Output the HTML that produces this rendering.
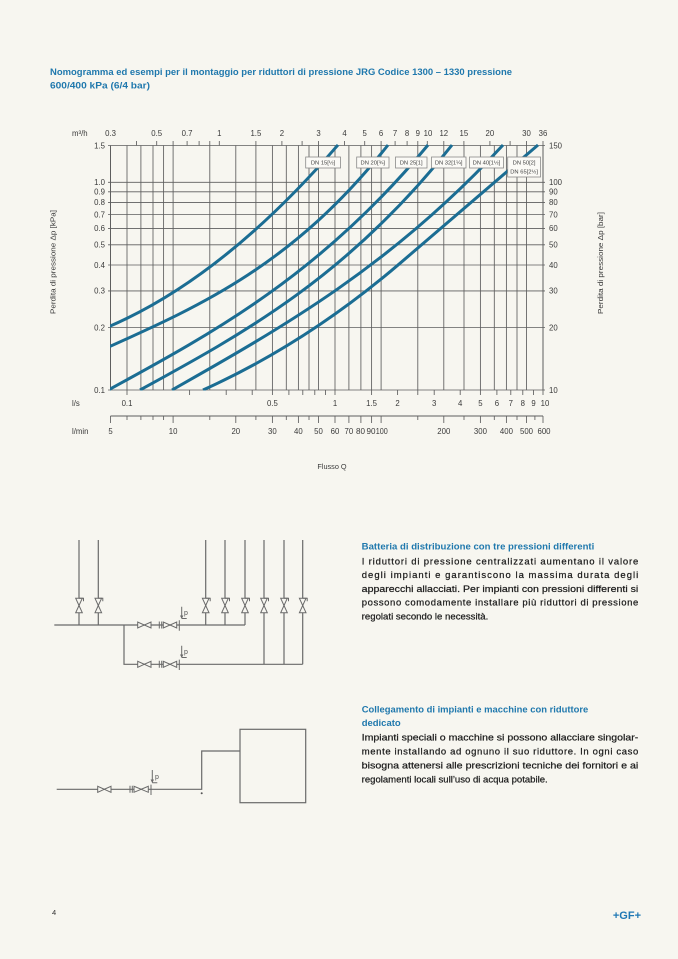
<!DOCTYPE html>
<html>
<head>
<meta charset="utf-8">
<style>
html,body{margin:0;padding:0;background:#f7f6f0;}
svg{display:block;}
</style>
</head>
<body>
<svg width="678" height="959" viewBox="0 0 678 959" xmlns="http://www.w3.org/2000/svg" font-family="'Liberation Sans', sans-serif">
<rect x="0" y="0" width="678" height="959" fill="#f7f6f0"/>

<!-- Title -->
<text x="50" y="75" font-size="9.5" font-weight="bold" fill="#1f78ad" textLength="462" lengthAdjust="spacingAndGlyphs">Nomogramma ed esempi per il montaggio per riduttori di pressione JRG Codice 1300 – 1330 pressione</text>
<text x="50" y="88.5" font-size="9.5" font-weight="bold" fill="#1f78ad" textLength="100" lengthAdjust="spacingAndGlyphs">600/400 kPa (6/4 bar)</text>

<!-- Grid -->
<g stroke="#5e5e5e" stroke-width="0.85" fill="none">
<path d="M127 145.5V390M140.9 145.5V390M153 145.5V390M163.6 145.5V390M173.1 145.5V390M209.8 145.5V390M235.8 145.5V390M255.9 145.5V390M272.4 145.5V390M286.3 145.5V390M298.4 145.5V390M309 145.5V390M318.5 145.5V390M335 145.5V390M348.9 145.5V390M360.9 145.5V390M371.6 145.5V390M381.1 145.5V390M417.8 145.5V390M443.8 145.5V390M464 145.5V390M480.4 145.5V390M494.3 145.5V390M506.4 145.5V390M517 145.5V390M526.5 145.5V390"/>
<path d="M108 327.5H545M108 290.9H545M108 265H545M108 244.8H545M108 228.4H545M108 214.5H545M108 202.4H545M108 191.8H545M108 182.3H545M108 145.5H545M108 390H545"/>
<path d="M110.5 145.5V390M543 145.5V390" stroke-width="1"/>
<!-- top ticks -->
<path d="M136.5 145.5V141M156.7 145.5V141M173.1 145.5V141M187.1 145.5V141M199.1 145.5V141M209.8 145.5V141M219.3 145.5V141M255.9 145.5V141M281.9 145.5V141M302.1 145.5V141M318.5 145.5V141M344.5 145.5V141M364.7 145.5V141M381.1 145.5V141M395.1 145.5V141M407.1 145.5V141M417.8 145.5V141M427.3 145.5V141M443.8 145.5V141M463.9 145.5V141M489.9 145.5V141M510.1 145.5V141M526.5 145.5V141M543 145.5V141"/>
<!-- l/s ticks -->
<path d="M127 390V395M189.6 390V395M226.2 390V395M252.2 390V395M272.4 390V395M288.9 390V395M302.8 390V395M314.8 390V395M325.5 390V395M335 390V395M371.6 390V395M397.6 390V395M417.8 390V395M434.2 390V395M460.2 390V395M480.4 390V395M496.9 390V395M510.8 390V395M522.8 390V395M533.5 390V395M543 390V395"/>
<!-- l/min axis -->
<path d="M110.5 416H543" stroke-width="1"/>
<path d="M110.5 416V423M173.1 416V423M235.8 416V423M272.4 416V423M298.4 416V423M318.5 416V423M335 416V423M348.9 416V423M360.9 416V423M371.6 416V423M381.1 416V423M443.8 416V423M480.4 416V423M506.4 416V423M526.5 416V423M543 416V423"/>
<path d="M127 416V420M140.9 416V420M153 416V420M163.6 416V420M209.8 416V420M255.9 416V420M286.3 416V420M309 416V420M417.8 416V420M464 416V420M494.3 416V420M517 416V420M534.9 416V420"/>
</g>

<!-- Curves -->
<defs><clipPath id="cc"><rect x="110" y="143.5" width="434" height="247"/></clipPath></defs>
<g clip-path="url(#cc)" stroke="#1b6d93" stroke-width="3" fill="none">
<path d="M108,327 C184.67,294.26 261.33,233.58 338,144.94"/>
<path d="M108,347.3 C201.33,305.42 294.67,263.54 388,145"/>
<path d="M108.3,390 C214.87,331.86 321.43,273.71 428,145"/>
<path d="M140,390 C244,333.2 348,276.39 452,145"/>
<path d="M172,390 C282.33,327.49 392.67,264.97 503,145"/>
<path d="M203,390 Q306.5,343.4 400,263.3 L538,145"/>
</g>

<!-- Legend boxes -->
<g fill="#fbfaf6" stroke="#8a8a8a" stroke-width="0.8">
<rect x="305.7" y="157" width="34.8" height="11"/>
<rect x="356.7" y="157" width="32.3" height="11"/>
<rect x="395.5" y="157" width="31.5" height="11"/>
<rect x="431.5" y="157" width="34.5" height="11"/>
<rect x="469.5" y="157" width="34" height="11"/>
<rect x="507.7" y="157" width="32.8" height="20"/>
</g>
<g font-size="5.8" fill="#444" text-anchor="middle">
<text x="323.1" y="164.7">DN 15[½]</text>
<text x="372.8" y="164.7">DN 20[¾]</text>
<text x="411.2" y="164.7">DN 25[1]</text>
<text x="448.7" y="164.7">DN 32[1¼]</text>
<text x="486.5" y="164.7">DN 40[1½]</text>
<text x="524.1" y="164.7">DN 50[2]</text>
<text x="524.1" y="173.5">DN 65[2½]</text>
</g>

<!-- Axis labels -->
<g font-size="7.8" fill="#3a3a3a">
<text x="72" y="136">m³/h</text>
<text x="72" y="406">l/s</text>
<text x="72" y="434">l/min</text>
</g>
<g font-size="7.8" fill="#3a3a3a" text-anchor="middle">
<text x="110.5" y="136">0.3</text>
<text x="156.7" y="136">0.5</text>
<text x="187.1" y="136">0.7</text>
<text x="219.3" y="136">1</text>
<text x="255.9" y="136">1.5</text>
<text x="281.9" y="136">2</text>
<text x="318.5" y="136">3</text>
<text x="344.5" y="136">4</text>
<text x="364.7" y="136">5</text>
<text x="381.1" y="136">6</text>
<text x="395.1" y="136">7</text>
<text x="407.1" y="136">8</text>
<text x="417.8" y="136">9</text>
<text x="428" y="136">10</text>
<text x="443.8" y="136">12</text>
<text x="463.9" y="136">15</text>
<text x="489.9" y="136">20</text>
<text x="526.5" y="136">30</text>
<text x="543" y="136">36</text>

<text x="127" y="406">0.1</text>
<text x="272.4" y="406">0.5</text>
<text x="335" y="406">1</text>
<text x="371.6" y="406">1.5</text>
<text x="397.6" y="406">2</text>
<text x="434.2" y="406">3</text>
<text x="460.2" y="406">4</text>
<text x="480.4" y="406">5</text>
<text x="496.9" y="406">6</text>
<text x="510.8" y="406">7</text>
<text x="522.8" y="406">8</text>
<text x="533.5" y="406">9</text>
<text x="545" y="406">10</text>

<text x="110.5" y="434">5</text>
<text x="173.1" y="434">10</text>
<text x="235.8" y="434">20</text>
<text x="272.4" y="434">30</text>
<text x="298.4" y="434">40</text>
<text x="318.5" y="434">50</text>
<text x="335" y="434">60</text>
<text x="348.9" y="434">70</text>
<text x="360.5" y="434" textLength="9" lengthAdjust="spacingAndGlyphs">80</text>
<text x="371" y="434" textLength="9" lengthAdjust="spacingAndGlyphs">90</text>
<text x="381.8" y="434" textLength="12" lengthAdjust="spacingAndGlyphs">100</text>
<text x="443.8" y="434">200</text>
<text x="480.4" y="434">300</text>
<text x="506.4" y="434">400</text>
<text x="526.5" y="434">500</text>
<text x="544" y="434">600</text>
</g>
<g font-size="7.8" fill="#3a3a3a" text-anchor="end">
<text x="105" y="148.5">1.5</text>
<text x="105" y="185.1">1.0</text>
<text x="105" y="194.6">0.9</text>
<text x="105" y="205.2">0.8</text>
<text x="105" y="217.3">0.7</text>
<text x="105" y="231.2">0.6</text>
<text x="105" y="247.6">0.5</text>
<text x="105" y="267.8">0.4</text>
<text x="105" y="293.7">0.3</text>
<text x="105" y="330.3">0.2</text>
<text x="105" y="392.8">0.1</text>
</g>
<g font-size="7.8" fill="#3a3a3a">
<text x="549" y="148.5">150</text>
<text x="549" y="185.1">100</text>
<text x="549" y="194.6">90</text>
<text x="549" y="205.2">80</text>
<text x="549" y="217.3">70</text>
<text x="549" y="231.2">60</text>
<text x="549" y="247.6">50</text>
<text x="549" y="267.8">40</text>
<text x="549" y="293.7">30</text>
<text x="549" y="330.3">20</text>
<text x="549" y="392.8">10</text>
</g>
<text transform="translate(55.5,262) rotate(-90)" font-size="7.3" fill="#3a3a3a" text-anchor="middle" textLength="104" lengthAdjust="spacingAndGlyphs">Perdita di pressione Δp [kPa]</text>
<text transform="translate(603,263) rotate(-90)" font-size="7.3" fill="#3a3a3a" text-anchor="middle" textLength="102" lengthAdjust="spacingAndGlyphs">Perdita di pressione Δp [bar]</text>
<text x="332" y="469" font-size="7.3" fill="#3a3a3a" text-anchor="middle">Flusso Q</text>

<!-- Diagram 1 -->
<g stroke="#6a6a6a" stroke-width="1.2" fill="none">
<path d="M54.3 625H245"/>
<path d="M79 540V625M98.3 540V625M205.7 540V625M225 540V625M245 540V625"/>
<path d="M264 540V664.3M284 540V664.3M302.7 540V664.3"/>
<path d="M124 625V664.3H302.7"/>
</g>
<g stroke="#6a6a6a" stroke-width="1" fill="#f7f6f0">
<path d="M75.7 598.3H82.3L79 605.5ZM75.7 612.7H82.3L79 605.5Z"/>
<path d="M95 598.3H101.6L98.3 605.5ZM95 612.7H101.6L98.3 605.5Z"/>
<path d="M202.4 598.3H209L205.7 605.5ZM202.4 612.7H209L205.7 605.5Z"/>
<path d="M221.7 598.3H228.3L225 605.5ZM221.7 612.7H228.3L225 605.5Z"/>
<path d="M241.7 598.3H248.3L245 605.5ZM241.7 612.7H248.3L245 605.5Z"/>
<path d="M260.7 598.3H267.3L264 605.5ZM260.7 612.7H267.3L264 605.5Z"/>
<path d="M280.7 598.3H287.3L284 605.5ZM280.7 612.7H287.3L284 605.5Z"/>
<path d="M299.4 598.3H306L302.7 605.5ZM299.4 612.7H306L302.7 605.5Z"/>
<path d="M137.7 622V628L144.3 625ZM151 622V628L144.3 625Z"/>
<path d="M163.3 622V628L170 625ZM176.7 622V628L170 625Z"/>
<path d="M137.7 661.3V667.3L144.3 664.3ZM151 661.3V667.3L144.3 664.3Z"/>
<path d="M163.3 661.3V667.3L170 664.3ZM176.7 661.3V667.3L170 664.3Z"/>
</g>
<g stroke="#6a6a6a" stroke-width="1" fill="none">
<path d="M79 598.3h4.5v3M98.3 598.3h4.5v3M205.7 598.3h4.5v3M225 598.3h4.5v3M245 598.3h4.5v3M264 598.3h4.5v3M284 598.3h4.5v3M302.7 598.3h4.5v3"/>
<path d="M159.3 621.5V628.5M161.7 621.5V628.5M179.3 620.3V630.7"/>
<path d="M159.3 660.8V667.8M161.7 660.8V667.8M179.3 659.6V670"/>
<path d="M181.7 606.7V618M181.7 645.7V657"/>
<path d="M181.7 618.5h5M181.7 657.5h5"/>
</g>
<g fill="#6a6a6a">
<path d="M180 615.5L181.7 619L183.4 615.5Z"/>
<path d="M180 654.5L181.7 658L183.4 654.5Z"/>
</g>
<g font-size="7" fill="#555">
<text x="184" y="615">p</text>
<text x="184" y="654">p</text>
</g>

<!-- Diagram 2 -->
<g stroke="#6a6a6a" stroke-width="1.2" fill="none">
<path d="M56.7 789.3H201.7V751H240"/>
<rect x="240" y="729.3" width="65.7" height="73.4"/>
</g>
<g stroke="#6a6a6a" stroke-width="1" fill="#f7f6f0">
<path d="M97.7 786.3V792.3L104.3 789.3ZM111 786.3V792.3L104.3 789.3Z"/>
<path d="M134 786.3V792.3L141.2 789.3ZM148.3 786.3V792.3L141.2 789.3Z"/>
</g>
<g stroke="#6a6a6a" stroke-width="1" fill="none">
<path d="M130 785.8V792.8M132.3 785.8V792.8M151 784.6V795"/>
<path d="M152.3 770V782.3M152.3 782.8h5"/>
</g>
<path d="M150.6 779.5L152.3 783L154 779.5Z" fill="#6a6a6a"/>
<circle cx="201.7" cy="793.3" r="1" fill="#555"/>
<text x="155" y="779" font-size="7" fill="#555">p</text>

<!-- Text block 1 -->
<text x="361.7" y="549.3" font-size="9.5" font-weight="bold" fill="#1f78ad" textLength="232.6" lengthAdjust="spacingAndGlyphs">Batteria di distribuzione con tre pressioni differenti</text>
<g font-size="9.5" fill="#1a1a1a" stroke="#1a1a1a" stroke-width="0.22">
<text x="361.7" y="564.3" textLength="276.6" lengthAdjust="spacing">I riduttori di pressione centralizzati aumentano il valore</text>
<text x="361.7" y="578.1" textLength="276.6" lengthAdjust="spacing">degli impianti e garantiscono la massima durata degli</text>
<text x="361.7" y="591.9" textLength="276.6" lengthAdjust="spacingAndGlyphs">apparecchi allacciati. Per impianti con pressioni differenti si</text>
<text x="361.7" y="605.7" textLength="276.6" lengthAdjust="spacing">possono comodamente installare più riduttori di pressione</text>
<text x="361.7" y="619.5" textLength="126.6" lengthAdjust="spacingAndGlyphs">regolati secondo le necessità.</text>
</g>

<!-- Text block 2 -->
<text x="361.7" y="712.3" font-size="9.5" font-weight="bold" fill="#1f78ad" textLength="226.6" lengthAdjust="spacingAndGlyphs">Collegamento di impianti e macchine con riduttore</text>
<text x="361.7" y="726.1" font-size="9.5" font-weight="bold" fill="#1f78ad" textLength="39" lengthAdjust="spacingAndGlyphs">dedicato</text>
<g font-size="9.5" fill="#1a1a1a" stroke="#1a1a1a" stroke-width="0.22">
<text x="361.7" y="740.5" textLength="276.6" lengthAdjust="spacingAndGlyphs">Impianti speciali o macchine si possono allacciare singolar-</text>
<text x="361.7" y="754.5" textLength="276.6" lengthAdjust="spacing">mente installando ad ognuno il suo riduttore. In ogni caso</text>
<text x="361.7" y="768.5" textLength="276.6" lengthAdjust="spacingAndGlyphs">bisogna attenersi alle prescrizioni tecniche dei fornitori e ai</text>
<text x="361.7" y="782.5" textLength="186" lengthAdjust="spacingAndGlyphs">regolamenti locali sull’uso di acqua potabile.</text>
</g>

<!-- Footer -->
<text x="52" y="915" font-size="7.5" fill="#333">4</text>
<text x="641" y="919" font-size="11" font-weight="bold" fill="#1f78b4" text-anchor="end">+GF+</text>
</svg>
</body>
</html>
